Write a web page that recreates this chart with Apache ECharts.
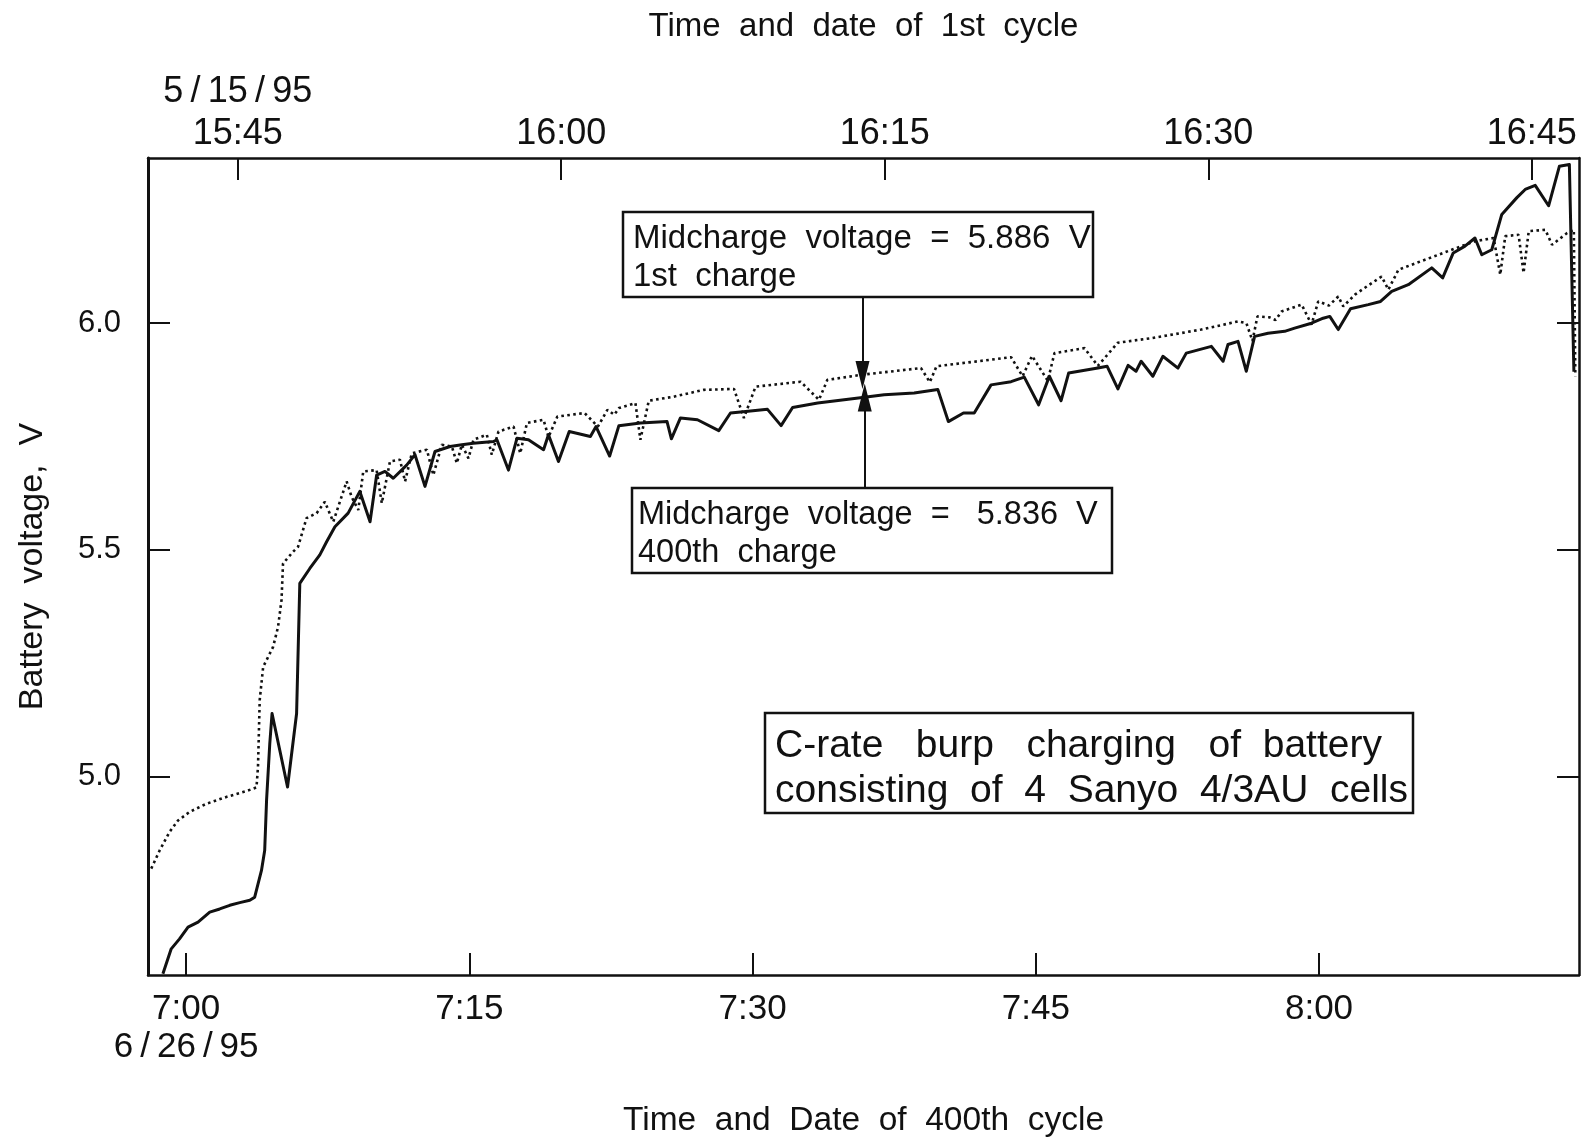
<!DOCTYPE html>
<html>
<head>
<meta charset="utf-8">
<title>Burp charging of a 4-cell Sanyo battery</title>
<script src="https://cdn.jsdelivr.net/npm/echarts@6/dist/echarts.min.js"></script>
<style>
  html, body { margin: 0; padding: 0; background: #ffffff; }
  #chart { width: 1583px; height: 1137px; }
</style>
</head>
<body>
<div id="chart"></div>
<script>
// 400th charge: minutes after 7:00 on 6/26/95, battery voltage (V)
const cycle400Minutes = [
  -1.23, -0.79, -0.35, 0.10, 0.63, 1.25, 1.78, 2.31, 2.84, 3.37,
  3.63, 3.99, 4.16, 4.26, 4.43, 4.55, 4.96, 5.37, 5.85, 6.02,
  6.55, 7.08, 7.44, 7.88, 8.58, 9.20, 9.74, 10.09, 10.53, 10.97,
  11.68, 12.12, 12.65, 13.18, 13.98, 14.60, 15.21, 16.28, 16.46, 17.07,
  17.52, 18.13, 18.93, 19.19, 19.72, 20.29, 21.41, 21.71, 22.43, 22.92,
  24.06, 25.47, 25.70, 26.18, 27.08, 28.21, 28.83, 29.63, 30.79, 31.51,
  32.12, 33.45, 35.82, 36.97, 38.56, 39.81, 40.37, 41.17, 41.74, 42.63,
  43.69, 44.39, 45.15, 45.72, 46.34, 46.74, 48.29, 48.78, 49.35, 49.89,
  50.31, 50.58, 51.20, 51.73, 52.53, 52.97, 54.30, 54.92, 55.18, 55.71,
  56.15, 56.59, 57.30, 58.18, 58.71, 59.60, 60.22, 60.57, 61.02, 61.67,
  62.61, 63.26, 63.85, 64.73, 65.97, 66.55, 67.11, 67.73, 68.26, 68.62,
  69.15, 69.68, 70.48, 70.92, 71.45, 72.16, 72.73, 73.26, 73.50
];
const cycle400Volts = [
  4.565, 4.620, 4.642, 4.668, 4.679, 4.701, 4.708, 4.716, 4.722, 4.727,
  4.734, 4.793, 4.837, 4.948, 5.073, 5.139, 5.058, 4.977, 5.139, 5.426,
  5.459, 5.489, 5.518, 5.551, 5.581, 5.629, 5.562, 5.665, 5.673, 5.658,
  5.687, 5.710, 5.640, 5.717, 5.728, 5.732, 5.735, 5.739, 5.743, 5.676,
  5.746, 5.743, 5.721, 5.754, 5.695, 5.761, 5.750, 5.772, 5.707, 5.774,
  5.780, 5.783, 5.745, 5.791, 5.787, 5.763, 5.802, 5.805, 5.810, 5.774,
  5.814, 5.824, 5.836, 5.842, 5.846, 5.854, 5.783, 5.802, 5.802, 5.864,
  5.871, 5.881, 5.820, 5.883, 5.829, 5.890, 5.901, 5.905, 5.855, 5.907,
  5.894, 5.916, 5.883, 5.927, 5.901, 5.934, 5.949, 5.916, 5.953, 5.960,
  5.894, 5.971, 5.978, 5.982, 5.989, 6.000, 6.011, 6.015, 5.986, 6.032,
  6.041, 6.048, 6.070, 6.085, 6.122, 6.100, 6.155, 6.170, 6.188, 6.151,
  6.162, 6.240, 6.277, 6.295, 6.304, 6.259, 6.346, 6.350, 5.893
];

// 1st charge: minutes after 15:45 on 5/15/95, battery voltage (V)
const cycle1Minutes = [
  -4.01, -3.62, -3.16, -2.77, -2.23, -1.45, -0.53, 0.40, 0.87, 0.94,
  1.02, 1.18, 1.64, 1.87, 2.03, 2.10, 2.57, 2.80, 3.19, 3.66,
  4.04, 4.43, 5.05, 5.28, 5.59, 5.82, 6.44, 6.68, 7.06, 7.52,
  7.76, 8.07, 8.77, 9.07, 9.46, 9.93, 10.16, 10.39, 10.70, 10.93,
  11.55, 11.78, 12.09, 12.79, 13.10, 13.41, 14.18, 14.41, 14.82, 16.08,
  16.70, 17.14, 17.46, 17.68, 18.44, 18.67, 19.06, 20.22, 21.61, 23.01,
  23.47, 24.01, 26.10, 26.95, 27.34, 28.89, 31.68, 32.09, 32.40, 35.86,
  36.39, 36.83, 37.56, 37.87, 39.26, 39.88, 40.81, 42.36, 44.68, 46.39,
  46.77, 47.05, 47.28, 47.84, 48.12, 48.40, 49.33, 49.79, 50.10, 50.60,
  51.03, 51.26, 51.80, 52.35, 53.04, 53.35, 53.82, 55.05, 56.29, 57.38,
  58.23, 58.54, 58.77, 59.39, 59.62, 59.86, 60.63, 60.94, 61.64, 61.95, 62.02
];
const cycle1Volts = [
  4.797, 4.837, 4.878, 4.903, 4.922, 4.940, 4.955, 4.968, 4.976, 5.021,
  5.169, 5.242, 5.286, 5.330, 5.389, 5.470, 5.496, 5.507, 5.570, 5.581,
  5.606, 5.562, 5.651, 5.617, 5.588, 5.673, 5.676, 5.603, 5.695, 5.699,
  5.651, 5.713, 5.721, 5.665, 5.732, 5.728, 5.691, 5.732, 5.702, 5.743,
  5.754, 5.710, 5.761, 5.772, 5.713, 5.780, 5.787, 5.749, 5.794, 5.802,
  5.772, 5.809, 5.798, 5.813, 5.824, 5.743, 5.829, 5.838, 5.853, 5.855,
  5.791, 5.860, 5.871, 5.831, 5.875, 5.886, 5.901, 5.870, 5.905, 5.925,
  5.883, 5.928, 5.873, 5.934, 5.945, 5.906, 5.957, 5.967, 5.986, 6.004,
  6.000, 5.961, 6.015, 6.013, 6.007, 6.026, 6.041, 5.997, 6.048, 6.039,
  6.059, 6.037, 6.063, 6.081, 6.103, 6.074, 6.118, 6.140, 6.162, 6.181,
  6.188, 6.107, 6.192, 6.195, 6.111, 6.203, 6.206, 6.173, 6.199, 6.206, 5.883
];

// Tick positions and labels
const bottomTickMinutes = [0, 15, 30, 45, 60];
const bottomTickLabels = ['7:00\n6\u2009/\u200926\u2009/\u200995', '7:15', '7:30', '7:45', '8:00'];
const topTickMinutes = [0, 15, 30, 45, 60];
const topTickLabels = ['5\u2009/\u200915\u2009/\u200995\n15:45', '16:00', '16:15', '16:30', '16:45'];
const voltTicks = [5.0, 5.5, 6.0];

// Midcharge voltages and the arrows pointing at them: [minute, arrow start V, midcharge V]
const midcharge1st = [28.97, 6.059, 5.886];
const midcharge400th = [35.94, 5.637, 5.836];

const FONT = '"Liberation Sans", Arial, Helvetica, sans-serif';
const INK = '#111111';

function zip(xs, ys) { return xs.map((x, i) => [x, ys[i]]); }

const chart = echarts.init(document.getElementById('chart'), null, { renderer: 'canvas' });

const axisLine = { show: true, onZero: false, lineStyle: { color: INK, width: 2.5 } };
const tickStyle = { color: INK, width: 2 };

function arrowLine(m) {
  return {
    silent: true,
    animation: false,
    symbol: ['none', 'triangle'],
    symbolSize: [14, 28],
    label: { show: false },
    lineStyle: { color: INK, width: 2, type: 'solid' },
    emphasis: { disabled: true },
    data: [[{ coord: [m[0], m[1]] }, { coord: [m[0], m[2]] }]]
  };
}

chart.setOption({
  animation: false,
  backgroundColor: '#ffffff',
  grid: { left: 148, right: 4, top: 158, bottom: 162, containLabel: false, outerBoundsMode: 'none' },
  xAxis: [
    {
      type: 'value',
      position: 'bottom',
      min: -2.02,
      max: 73.77,
      name: 'Time  and  Date  of  400th  cycle',
      nameLocation: 'middle',
      nameGap: 129,
      nameTextStyle: { fontFamily: FONT, fontSize: 33.5, color: INK },
      axisLine: axisLine,
      splitLine: { show: false },
      axisTick: { show: true, inside: true, length: 22, lineStyle: tickStyle, customValues: bottomTickMinutes },
      axisLabel: {
        customValues: bottomTickMinutes,
        fontFamily: FONT, fontSize: 35, color: INK, lineHeight: 38, margin: 15,
        formatter: v => bottomTickLabels[bottomTickMinutes.indexOf(v)] || ''
      }
    },
    {
      type: 'value',
      position: 'top',
      min: -4.16,
      max: 62.19,
      name: 'Time  and  date  of  1st  cycle',
      nameLocation: 'middle',
      nameGap: 115,
      nameTextStyle: { fontFamily: FONT, fontSize: 33, color: INK },
      axisLine: axisLine,
      splitLine: { show: false },
      axisTick: { show: true, inside: true, length: 22, lineStyle: tickStyle, customValues: topTickMinutes },
      axisLabel: {
        customValues: topTickMinutes,
        fontFamily: FONT, fontSize: 36, color: INK, lineHeight: 42, margin: 3,
        formatter: v => topTickLabels[topTickMinutes.indexOf(v)] || ''
      }
    }
  ],
  yAxis: [
    {
      type: 'value',
      position: 'left',
      min: 4.5623,
      max: 6.3644,
      name: 'Battery  voltage,  V',
      nameLocation: 'middle',
      nameGap: 98,
      nameRotate: 90,
      nameTextStyle: { fontFamily: FONT, fontSize: 34, color: INK },
      axisLine: { show: true, onZero: false, lineStyle: { color: INK, width: 3 } },
      splitLine: { show: false },
      axisTick: { show: true, inside: true, length: 22, lineStyle: tickStyle, customValues: voltTicks },
      axisLabel: {
        customValues: voltTicks,
        fontFamily: FONT, fontSize: 31, color: INK, margin: 27,
        formatter: v => v.toFixed(1)
      }
    },
    {
      type: 'value',
      position: 'right',
      min: 4.5623,
      max: 6.3644,
      axisLine: axisLine,
      splitLine: { show: false },
      axisTick: { show: true, inside: true, length: 22, lineStyle: tickStyle, customValues: voltTicks },
      axisLabel: { show: false }
    }
  ],
  series: [
    {
      name: '400th charge',
      type: 'line',
      xAxisIndex: 0,
      yAxisIndex: 0,
      data: zip(cycle400Minutes, cycle400Volts),
      showSymbol: false,
      symbol: 'none',
      lineStyle: { color: INK, width: 3, join: 'round' },
      markLine: arrowLine(midcharge400th),
      z: 3
    },
    {
      name: '1st charge',
      type: 'line',
      xAxisIndex: 1,
      yAxisIndex: 0,
      data: zip(cycle1Minutes, cycle1Volts),
      showSymbol: false,
      symbol: 'none',
      lineStyle: { color: INK, width: 2.6, type: [2.6, 3.4], cap: 'butt' },
      markLine: arrowLine(midcharge1st),
      z: 2
    }
  ],
  graphic: [
    {
      type: 'rect', shape: { x: 623, y: 212, width: 470, height: 85 },
      style: { fill: '#ffffff', stroke: INK, lineWidth: 2.5 }, z: 10
    },
    {
      type: 'text', x: 633, y: 220, z: 11,
      style: {
        text: 'Midcharge  voltage  =  5.886  V\n1st  charge',
        font: '33px ' + FONT, fill: INK, lineHeight: 38, verticalAlign: 'top'
      }
    },
    {
      type: 'rect', shape: { x: 632, y: 488, width: 480, height: 85 },
      style: { fill: '#ffffff', stroke: INK, lineWidth: 2.5 }, z: 10
    },
    {
      type: 'text', x: 638, y: 496, z: 11,
      style: {
        text: 'Midcharge  voltage  =   5.836  V\n400th  charge',
        font: '32.5px ' + FONT, fill: INK, lineHeight: 38, verticalAlign: 'top'
      }
    },
    {
      type: 'rect', shape: { x: 765, y: 713, width: 648, height: 100 },
      style: { fill: '#ffffff', stroke: INK, lineWidth: 2.5 }, z: 10
    },
    {
      type: 'text', x: 775, y: 724, z: 11,
      style: {
        text: 'C-rate   burp   charging   of  battery\nconsisting  of  4  Sanyo  4/3AU  cells',
        font: '39px ' + FONT, fill: INK, lineHeight: 44.5, verticalAlign: 'top'
      }
    }
  ]
});
</script>
</body>
</html>
